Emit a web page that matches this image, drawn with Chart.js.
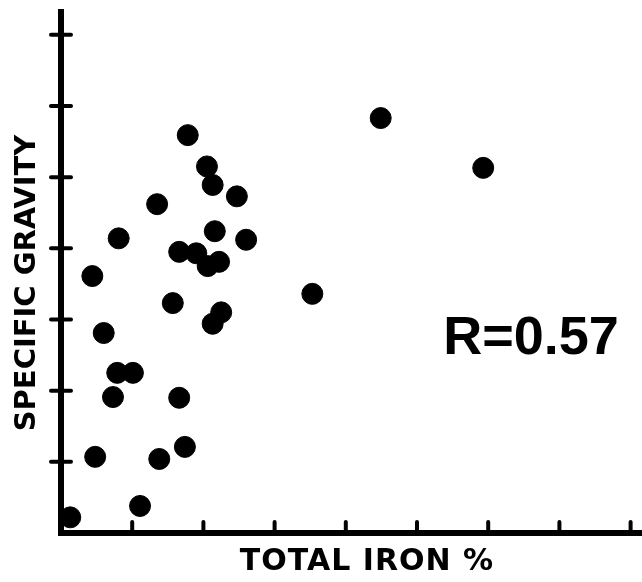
<!DOCTYPE html>
<html>
<head>
<meta charset="utf-8">
<script src="https://cdn.jsdelivr.net/npm/chart.js@4"></script>
<style>
html, body { margin: 0; padding: 0; background: #fff; }
</style>
</head>
<body>
<canvas id="myChart" width="642" height="582"></canvas>
<script>
// valeurs (1 unité = 1 graduation)
const ironPct = [0.13, 0.44, 0.48, 0.60, 0.73, 0.79, 0.81, 1.01, 1.11, 1.35,
    1.38, 1.57, 1.66, 1.74, 1.78, 1.66, 1.90, 2.05, 2.13, 2.06,
    2.22, 2.16, 2.25, 2.13, 2.47, 2.60, 3.53, 4.49, 5.93];
const specGravity = [0.22, 3.61, 1.07, 2.81, 1.91, 2.25, 4.14, 2.25, 0.38, 4.62,
    1.04, 3.23, 1.90, 1.21, 5.59, 3.95, 3.93, 5.15, 4.89, 3.75,
    3.81, 4.24, 3.10, 2.94, 4.73, 4.12, 3.36, 5.83, 5.13];
const xTicks = [1, 2, 3, 4, 5, 6, 7, 8];
const yTicks = [1, 2, 3, 4, 5, 6, 7];
const xTitle = 'TOTAL IRON %';
const yTitle = 'SPECIFIC GRAVITY';
const rLabel = 'R=0.57';

const points = ironPct.map((x, i) => ({ x: x, y: specGravity[i] }));

// graduations, titres et coefficient
const decor = {
    id: 'decor',
    afterDraw(chart) {
        const ctx = chart.ctx;
        const xs = chart.scales.x;
        const ys = chart.scales.y;
        const area = chart.chartArea;
        ctx.save();
        ctx.strokeStyle = '#000';
        ctx.lineCap = 'round';
        ctx.lineWidth = 4;
        yTicks.forEach(v => {
            const y = ys.getPixelForValue(v);
            ctx.beginPath();
            ctx.moveTo(area.left - 10, y);
            ctx.lineTo(area.left + 10, y);
            ctx.stroke();
        });
        xTicks.forEach(v => {
            const x = xs.getPixelForValue(v);
            ctx.beginPath();
            ctx.moveTo(x, area.bottom);
            ctx.lineTo(x, area.bottom - 11);
            ctx.stroke();
        });
        ctx.fillStyle = '#000';
        ctx.textAlign = 'center';
        ctx.textBaseline = 'middle';
        ctx.font = 'bold 54px "Liberation Sans"';
        ctx.fillText(rLabel, area.left + 470, area.bottom - 194);
        ctx.font = 'bold 30px "DejaVu Sans"';
        ctx.letterSpacing = '1px';
        ctx.fillText(xTitle, 367, 562);
        ctx.letterSpacing = '0px';
        ctx.translate(27, 283);
        ctx.rotate(-Math.PI / 2);
        ctx.font = 'bold 29px "DejaVu Sans"';
        ctx.fillText(yTitle, 0, 0);
        ctx.restore();
    }
};

const axisOpts = {
    type: 'linear',
    min: 0,
    grid: { display: false },
    ticks: { display: false },
    border: { display: true, width: 6, color: '#000' }
};

new Chart(document.getElementById('myChart').getContext('2d'), {
    type: 'scatter',
    data: {
        datasets: [{
            data: points,
            backgroundColor: '#000',
            borderColor: '#000',
            pointRadius: 10.5,
            clip: false
        }]
    },
    options: {
        responsive: false,
        animation: false,
        layout: { autoPadding: false, padding: { top: 12, right: 0, left: 0, bottom: 0 } },
        plugins: { legend: { display: false }, tooltip: { enabled: false } },
        scales: {
            x: Object.assign({}, axisOpts, { max: 8.16, afterFit: s => { s.height = 49; } }),
            y: Object.assign({}, axisOpts, { max: 7.32, afterFit: s => { s.width = 61; } })
        }
    },
    plugins: [decor]
});
</script>
</body>
</html>
